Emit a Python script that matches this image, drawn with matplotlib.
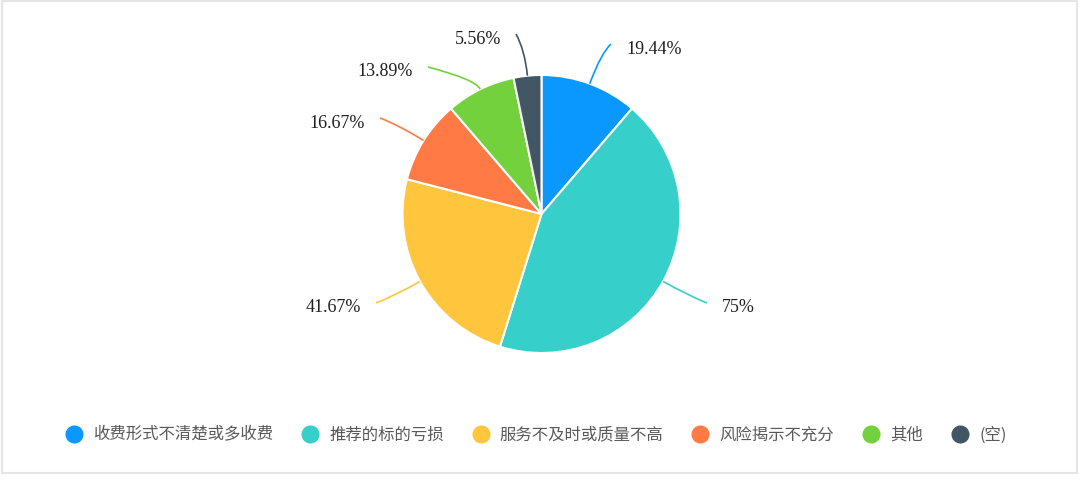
import numpy as np
import matplotlib.pyplot as plt
from matplotlib.path import Path
from matplotlib.patches import PathPatch, Rectangle
from matplotlib.lines import Line2D

plt.rcParams['font.family'] = ['Noto Sans CJK SC', 'DejaVu Sans']

categories = ['收费形式不清楚或多收费', '推荐的标的亏损', '服务不及时或质量不高',
              '风险揭示不充分', '其他', '(空)']
percents = [19.44, 75, 41.67, 16.67, 13.89, 5.56]
labels = ['19.44%', '75%', '41.67%', '16.67%', '13.89%', '5.56%']
colors = ['#0A98FF', '#36CFC9', '#FFC53D', '#FF7A45', '#73D13D', '#435663']

H = 480
cx, cy, R = 541.5, H - 214, 139
# leader lines: knee radius and end point (pixels, from top left)
knee_r = [172, 170, 170, 168, 150, 165]
ends = [(611, 44), (707, 303), (376, 303), (380, 118), (428, 67), (516, 34)]

fig = plt.figure(figsize=(10.8, 4.8), dpi=100)
ax = fig.add_axes([0, 0, 1, 1])
wedges, _ = ax.pie(percents, colors=colors, startangle=90, counterclock=False,
                   center=(cx, cy), radius=R,
                   wedgeprops=dict(edgecolor='white', linewidth=1.5))

for w, lab, kr, (ex, ey) in zip(wedges, labels, knee_r, ends):
    ang = np.deg2rad((w.theta1 + w.theta2) / 2)
    p0 = (cx + R * np.cos(ang), cy + R * np.sin(ang))
    p1 = (cx + kr * np.cos(ang), cy + kr * np.sin(ang))
    p2 = (ex, H - ey)
    path = Path([p0, p1, p2], [Path.MOVETO, Path.CURVE3, Path.CURVE3])
    ax.add_patch(PathPatch(path, fill=False, ec=w.get_facecolor(), lw=1.2))
    right = ex > cx
    ax.text(ex + (15 if right else -15), H - ey - 5, lab,
            ha='left' if right else 'right', va='center',
            family='Liberation Serif', fontsize=13, color='#1F1F1F')

handles = [Line2D([], [], ls='none', marker='o', markersize=12,
                  markerfacecolor=c, markeredgecolor=c) for c in colors]
fig.legend(handles, categories, loc='center', ncol=6,
           bbox_to_anchor=(536 / 1080, 1 - 435 / 480), frameon=False,
           fontsize=11.8, labelcolor='#595959', handlelength=1.0,
           handletextpad=0.67, columnspacing=1.75)

ax.add_patch(Rectangle((2, H - 473), 1075, 472, fill=False, ec='#E5E5E5', lw=1.5))
ax.set_xlim(0, 1080)
ax.set_ylim(0, H)
ax.set_aspect('equal')
ax.axis('off')

fig.savefig('out.png', dpi=100)
